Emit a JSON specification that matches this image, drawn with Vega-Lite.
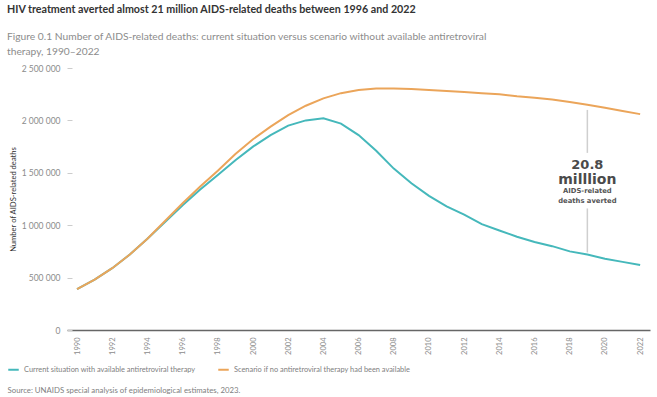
{
  "$schema": "https://vega.github.io/schema/vega-lite/v6.json",
  "width": 583,
  "height": 262,
  "autosize": {"type": "none"},
  "padding": {"left": 67, "top": 68, "right": 7, "bottom": 67},
  "background": "white",
  "config": {
    "view": {"stroke": null},
    "font": "Lato",
    "locale": {"number": {"decimal": ".", "thousands": " ", "grouping": [3], "currency": ["", ""]}}
  },
  "title": {
    "text": "HIV treatment averted almost 21 million AIDS-related deaths between 1996 and 2022",
    "subtitle": ["Figure 0.1 Number of AIDS-related deaths: current situation versus scenario without available antiretroviral", "therapy, 1990–2022"],
    "anchor": "start",
    "frame": "group",
    "dx": -60,
    "offset": 6,
    "font": "Lato",
    "fontSize": 10.7,
    "fontWeight": "bold",
    "color": "#333333",
    "subtitleFont": "Lato",
    "subtitleFontSize": 10.25,
    "subtitleColor": "#8c8c8c",
    "subtitlePadding": 16,
    "subtitleLineHeight": 15
  },
  "resolve": {"axis": {"x": "independent", "y": "independent"}, "scale": {"x": "shared", "y": "shared"}},
  "datasets": {
    "deaths": [
      {"year": 1990, "series": "Current situation with available antiretroviral therapy", "value": 390000},
      {"year": 1991, "series": "Current situation with available antiretroviral therapy", "value": 480000},
      {"year": 1992, "series": "Current situation with available antiretroviral therapy", "value": 590000},
      {"year": 1993, "series": "Current situation with available antiretroviral therapy", "value": 720000},
      {"year": 1994, "series": "Current situation with available antiretroviral therapy", "value": 870000},
      {"year": 1995, "series": "Current situation with available antiretroviral therapy", "value": 1030000},
      {"year": 1996, "series": "Current situation with available antiretroviral therapy", "value": 1190000},
      {"year": 1997, "series": "Current situation with available antiretroviral therapy", "value": 1340000},
      {"year": 1998, "series": "Current situation with available antiretroviral therapy", "value": 1480000},
      {"year": 1999, "series": "Current situation with available antiretroviral therapy", "value": 1620000},
      {"year": 2000, "series": "Current situation with available antiretroviral therapy", "value": 1750000},
      {"year": 2001, "series": "Current situation with available antiretroviral therapy", "value": 1860000},
      {"year": 2002, "series": "Current situation with available antiretroviral therapy", "value": 1950000},
      {"year": 2003, "series": "Current situation with available antiretroviral therapy", "value": 2000000},
      {"year": 2004, "series": "Current situation with available antiretroviral therapy", "value": 2020000},
      {"year": 2005, "series": "Current situation with available antiretroviral therapy", "value": 1970000},
      {"year": 2006, "series": "Current situation with available antiretroviral therapy", "value": 1860000},
      {"year": 2007, "series": "Current situation with available antiretroviral therapy", "value": 1710000},
      {"year": 2008, "series": "Current situation with available antiretroviral therapy", "value": 1540000},
      {"year": 2009, "series": "Current situation with available antiretroviral therapy", "value": 1400000},
      {"year": 2010, "series": "Current situation with available antiretroviral therapy", "value": 1280000},
      {"year": 2011, "series": "Current situation with available antiretroviral therapy", "value": 1180000},
      {"year": 2012, "series": "Current situation with available antiretroviral therapy", "value": 1100000},
      {"year": 2013, "series": "Current situation with available antiretroviral therapy", "value": 1010000},
      {"year": 2014, "series": "Current situation with available antiretroviral therapy", "value": 950000},
      {"year": 2015, "series": "Current situation with available antiretroviral therapy", "value": 890000},
      {"year": 2016, "series": "Current situation with available antiretroviral therapy", "value": 840000},
      {"year": 2017, "series": "Current situation with available antiretroviral therapy", "value": 800000},
      {"year": 2018, "series": "Current situation with available antiretroviral therapy", "value": 750000},
      {"year": 2019, "series": "Current situation with available antiretroviral therapy", "value": 720000},
      {"year": 2020, "series": "Current situation with available antiretroviral therapy", "value": 680000},
      {"year": 2021, "series": "Current situation with available antiretroviral therapy", "value": 650000},
      {"year": 2022, "series": "Current situation with available antiretroviral therapy", "value": 620000},
      {"year": 1990, "series": "Scenario if no antiretroviral therapy had been available", "value": 390000},
      {"year": 1991, "series": "Scenario if no antiretroviral therapy had been available", "value": 480000},
      {"year": 1992, "series": "Scenario if no antiretroviral therapy had been available", "value": 590000},
      {"year": 1993, "series": "Scenario if no antiretroviral therapy had been available", "value": 720000},
      {"year": 1994, "series": "Scenario if no antiretroviral therapy had been available", "value": 870000},
      {"year": 1995, "series": "Scenario if no antiretroviral therapy had been available", "value": 1040000},
      {"year": 1996, "series": "Scenario if no antiretroviral therapy had been available", "value": 1210000},
      {"year": 1997, "series": "Scenario if no antiretroviral therapy had been available", "value": 1370000},
      {"year": 1998, "series": "Scenario if no antiretroviral therapy had been available", "value": 1520000},
      {"year": 1999, "series": "Scenario if no antiretroviral therapy had been available", "value": 1680000},
      {"year": 2000, "series": "Scenario if no antiretroviral therapy had been available", "value": 1820000},
      {"year": 2001, "series": "Scenario if no antiretroviral therapy had been available", "value": 1940000},
      {"year": 2002, "series": "Scenario if no antiretroviral therapy had been available", "value": 2050000},
      {"year": 2003, "series": "Scenario if no antiretroviral therapy had been available", "value": 2140000},
      {"year": 2004, "series": "Scenario if no antiretroviral therapy had been available", "value": 2210000},
      {"year": 2005, "series": "Scenario if no antiretroviral therapy had been available", "value": 2260000},
      {"year": 2006, "series": "Scenario if no antiretroviral therapy had been available", "value": 2290000},
      {"year": 2007, "series": "Scenario if no antiretroviral therapy had been available", "value": 2305000},
      {"year": 2008, "series": "Scenario if no antiretroviral therapy had been available", "value": 2305000},
      {"year": 2009, "series": "Scenario if no antiretroviral therapy had been available", "value": 2300000},
      {"year": 2010, "series": "Scenario if no antiretroviral therapy had been available", "value": 2290000},
      {"year": 2011, "series": "Scenario if no antiretroviral therapy had been available", "value": 2280000},
      {"year": 2012, "series": "Scenario if no antiretroviral therapy had been available", "value": 2270000},
      {"year": 2013, "series": "Scenario if no antiretroviral therapy had been available", "value": 2260000},
      {"year": 2014, "series": "Scenario if no antiretroviral therapy had been available", "value": 2250000},
      {"year": 2015, "series": "Scenario if no antiretroviral therapy had been available", "value": 2230000},
      {"year": 2016, "series": "Scenario if no antiretroviral therapy had been available", "value": 2215000},
      {"year": 2017, "series": "Scenario if no antiretroviral therapy had been available", "value": 2200000},
      {"year": 2018, "series": "Scenario if no antiretroviral therapy had been available", "value": 2175000},
      {"year": 2019, "series": "Scenario if no antiretroviral therapy had been available", "value": 2150000},
      {"year": 2020, "series": "Scenario if no antiretroviral therapy had been available", "value": 2120000},
      {"year": 2021, "series": "Scenario if no antiretroviral therapy had been available", "value": 2090000},
      {"year": 2022, "series": "Scenario if no antiretroviral therapy had been available", "value": 2060000}
    ],
    "gap": [
      {"year": 2019, "top": 2100000, "bottom": 1690000},
      {"year": 2019, "top": 1160000, "bottom": 740000}
    ],
    "bigLabel": [
      {"year": 2019, "value": 1535000, "text": "20.8"}
    ],
    "midLabel": [
      {"year": 2019, "value": 1393000, "text": "milllion"}
    ],
    "smallLabel": [
      {"year": 2019, "value": 1307000, "text": "AIDS-related"},
      {"year": 2019, "value": 1212000, "text": "deaths averted"}
    ]
  },
  "layer": [
    {
      "data": {"name": "deaths"},
      "mark": {"type": "line", "strokeWidth": 2},
      "encoding": {
        "x": {
          "field": "year",
          "type": "quantitative",
          "scale": {"domain": [1989.43, 2022.56], "nice": false, "zero": false},
          "axis": {
            "values": [1990, 1992, 1994, 1996, 1998, 2000, 2002, 2004, 2006, 2008, 2010, 2012, 2014, 2016, 2018, 2020, 2022],
            "format": "d",
            "labelAngle": -90,
            "labelOverlap": false,
            "labelBound": false,
            "labelFontSize": 7.5,
            "labelColor": "#8c8c8c",
            "labelPadding": 7,
            "ticks": false,
            "grid": false,
            "domainColor": "#666666",
            "domainWidth": 1.5,
            "title": "Source: UNAIDS special analysis of epidemiological estimates, 2023.",
            "titleFontSize": 7.8,
            "titleFontWeight": "normal",
            "titleColor": "#808080",
            "titleAnchor": "start",
            "titleAlign": "left",
            "titleBaseline": "middle",
            "titleX": -60,
            "titleY": 60
          }
        },
        "y": {
          "field": "value",
          "type": "quantitative",
          "scale": {"domain": [0, 2500000], "nice": false},
          "axis": {
            "values": [0, 500000, 1000000, 1500000, 2000000, 2500000],
            "format": ",d",
            "offset": -5,
            "domain": false,
            "grid": false,
            "tickSize": 5,
            "tickColor": "#cccccc",
            "labelPadding": 7,
            "labelFontSize": 8.5,
            "labelColor": "#8c8c8c",
            "title": "Number of AIDS-related deaths",
            "titleFontSize": 7.6,
            "titleFontWeight": "normal",
            "titleColor": "#333333",
            "titlePadding": 4
          }
        },
        "color": {
          "field": "series",
          "type": "nominal",
          "scale": {
            "domain": ["Current situation with available antiretroviral therapy", "Scenario if no antiretroviral therapy had been available"],
            "range": ["#45b8bb", "#eba55a"]
          },
          "legend": {
            "title": null,
            "orient": "none",
            "direction": "horizontal",
            "legendX": -60,
            "legendY": 295,
            "symbolType": "stroke",
            "symbolSize": 110,
            "symbolStrokeWidth": 2,
            "labelFontSize": 7.4,
            "labelColor": "#808080",
            "columnPadding": 18,
            "labelLimit": 400
          }
        }
      }
    },
    {
      "mark": {"type": "rule", "color": "#d9d9d9", "strokeWidth": 1},
      "encoding": {"y": {"datum": 2500000, "type": "quantitative", "axis": null}}
    },
    {
      "data": {"name": "gap"},
      "mark": {"type": "rule", "color": "#cfcfcf", "strokeWidth": 1.5},
      "encoding": {
        "x": {"field": "year", "type": "quantitative", "axis": null},
        "y": {"field": "top", "type": "quantitative", "axis": null},
        "y2": {"field": "bottom"}
      }
    },
    {
      "data": {"name": "bigLabel"},
      "mark": {"type": "text", "font": "DejaVu Sans", "fontSize": 13, "fontWeight": "bold", "color": "#4a4a4a", "align": "center", "baseline": "alphabetic"},
      "encoding": {
        "x": {"field": "year", "type": "quantitative", "axis": null},
        "y": {"field": "value", "type": "quantitative", "axis": null},
        "text": {"field": "text"}
      }
    },
    {
      "data": {"name": "midLabel"},
      "mark": {"type": "text", "font": "DejaVu Sans", "fontSize": 14, "fontWeight": "bold", "color": "#4a4a4a", "align": "center", "baseline": "alphabetic"},
      "encoding": {
        "x": {"field": "year", "type": "quantitative", "axis": null},
        "y": {"field": "value", "type": "quantitative", "axis": null},
        "text": {"field": "text"}
      }
    },
    {
      "data": {"name": "smallLabel"},
      "mark": {"type": "text", "font": "DejaVu Sans", "fontSize": 6.8, "fontWeight": "bold", "color": "#555555", "align": "center", "baseline": "alphabetic"},
      "encoding": {
        "x": {"field": "year", "type": "quantitative", "axis": null},
        "y": {"field": "value", "type": "quantitative", "axis": null},
        "text": {"field": "text"}
      }
    }
  ]
}
